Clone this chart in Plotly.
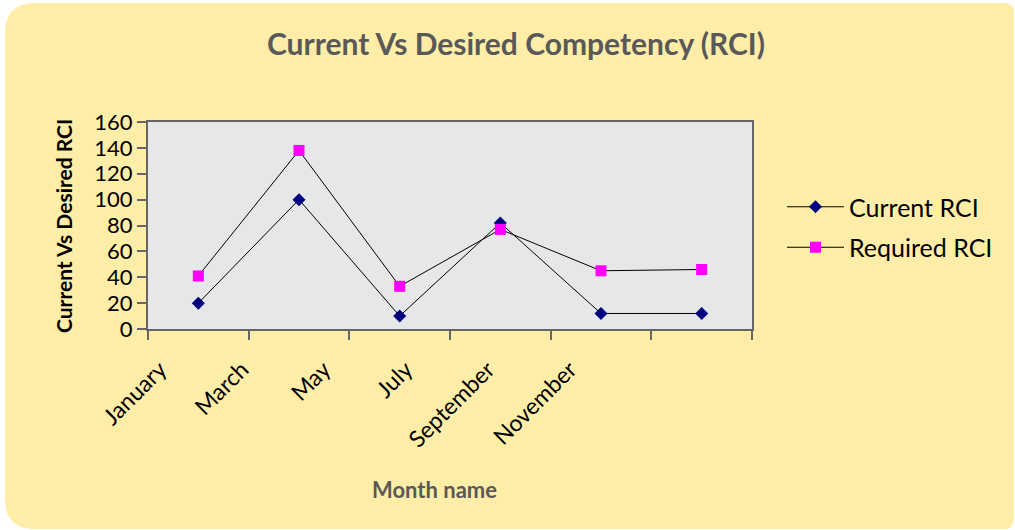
import plotly.graph_objects as go

months = ["January", "March", "May", "July", "September", "November"]
current_rci = [20, 100, 10, 82, 12, 12]
required_rci = [41, 138, 33, 77, 45, 46]
y_ticks = [0, 20, 40, 60, 80, 100, 120, 140, 160]

W, H = 1015, 530
L, R, T, B = 148, 752, 122, 329
FONT = "Lato"
YELLOW = "#FFEDA8"
PLOTBG = "#E6E7E8"
AXIS = "#666666"
TITLE_GRAY = "#595959"


def px(x):
    return (x - L) / (R - L)


def py(y):
    return (B - y) / (B - T)


# label axis: maps category index to pixel positions of the angled labels
lab_first, lab_step = 160, 82
a = -(lab_first - L) / lab_step
b = a + (R - L) / lab_step

fig = go.Figure()
fig.add_trace(go.Scatter(
    x=months, y=current_rci, name="Current RCI", mode="lines+markers",
    line=dict(color="black", width=1),
    marker=dict(symbol="diamond", size=10, color="#000080"),
    legendgroup="a",
))
fig.add_trace(go.Scatter(
    x=months, y=required_rci, name="Required RCI", mode="lines+markers",
    line=dict(color="black", width=1),
    marker=dict(symbol="square", size=11, color="#FF00FF", line=dict(width=0)),
    legendgroup="b",
))
# invisible trace to activate label axis
fig.add_trace(go.Scatter(x=[0], y=[None], xaxis="x2", showlegend=False, hoverinfo="skip"))

# rounded yellow panel
x0, x1, y0, y1 = 5, 1014, 3, 529
r1, r2 = 30, 10
path = (
    f"M {px(x0 + r1)} {py(y0)} L {px(x1 - r2)} {py(y0)} "
    f"Q {px(x1)} {py(y0)} {px(x1)} {py(y0 + r2)} "
    f"L {px(x1)} {py(y1 - r2)} Q {px(x1)} {py(y1)} {px(x1 - r2)} {py(y1)} "
    f"L {px(x0 + r1)} {py(y1)} Q {px(x0)} {py(y1)} {px(x0)} {py(y1 - r1)} "
    f"L {px(x0)} {py(y0 + r1)} Q {px(x0)} {py(y0)} {px(x0 + r1)} {py(y0)} Z"
)
fig.add_shape(type="path", path=path, xref="paper", yref="paper",
              fillcolor=YELLOW, line=dict(width=0), layer="below")
fig.add_shape(type="rect", x0=0, x1=1, y0=0, y1=1, xref="paper", yref="paper",
              fillcolor=PLOTBG, line=dict(width=0), layer="below")

fig.add_annotation(text="Month name", x=px(434), y=py(489), xref="paper", yref="paper",
                   xanchor="center", yanchor="middle", showarrow=False,
                   font=dict(family=FONT, size=22, color=TITLE_GRAY, weight="bold"))
fig.add_annotation(text="Current Vs Desired RCI", x=px(63), y=py(226), xref="paper", yref="paper",
                   xanchor="center", yanchor="middle", textangle=-90, showarrow=False,
                   font=dict(family=FONT, size=21, color="black", weight="bold"))

fig.update_layout(
    width=W, height=H,
    margin=dict(l=L, r=W - R, t=T, b=H - B),
    paper_bgcolor="white", plot_bgcolor="rgba(0,0,0,0)",
    font=dict(family=FONT, color="black"),
    title=dict(text="Current Vs Desired Competency (RCI)", x=516 / W, xanchor="center",
               y=1 - 44 / H, yanchor="middle",
               font=dict(family=FONT, size=30, color=TITLE_GRAY, weight="bold")),
    showlegend=True,
    legend=dict(x=px(782), y=py(184), xanchor="left", yanchor="top",
                bgcolor="rgba(0,0,0,0)", font=dict(family=FONT, size=25),
                tracegroupgap=5, itemwidth=57),
    xaxis=dict(type="category", categoryarray=months, range=[-0.5, 5.5],
               showticklabels=False, ticks="outside", tickson="boundaries",
               ticklen=9, tickwidth=2, tickcolor=AXIS,
               showline=True, linecolor=AXIS, linewidth=2, mirror=True,
               showgrid=False, zeroline=False),
    xaxis2=dict(overlaying="x", anchor="y", side="bottom", range=[a, b],
                tickmode="array", tickvals=list(range(len(months))), ticktext=months,
                tickangle=-45, tickfont=dict(family=FONT, size=23, color="black"),
                ticks="outside", ticklen=17, tickcolor="rgba(0,0,0,0)",
                showline=False, showgrid=False, zeroline=False),
    yaxis=dict(range=[0, 160], tickmode="array", tickvals=y_ticks,
               tickfont=dict(family=FONT, size=22, color="black"),
               ticks="outside", ticklen=9, tickwidth=2, tickcolor=AXIS,
               showline=True, linecolor=AXIS, linewidth=2, mirror=True,
               showgrid=False, zeroline=False),
)

fig.write_html("out.html", config={"displayModeBar": False},
               post_script="document.body.style.margin='0';document.body.style.overflow='hidden';")
